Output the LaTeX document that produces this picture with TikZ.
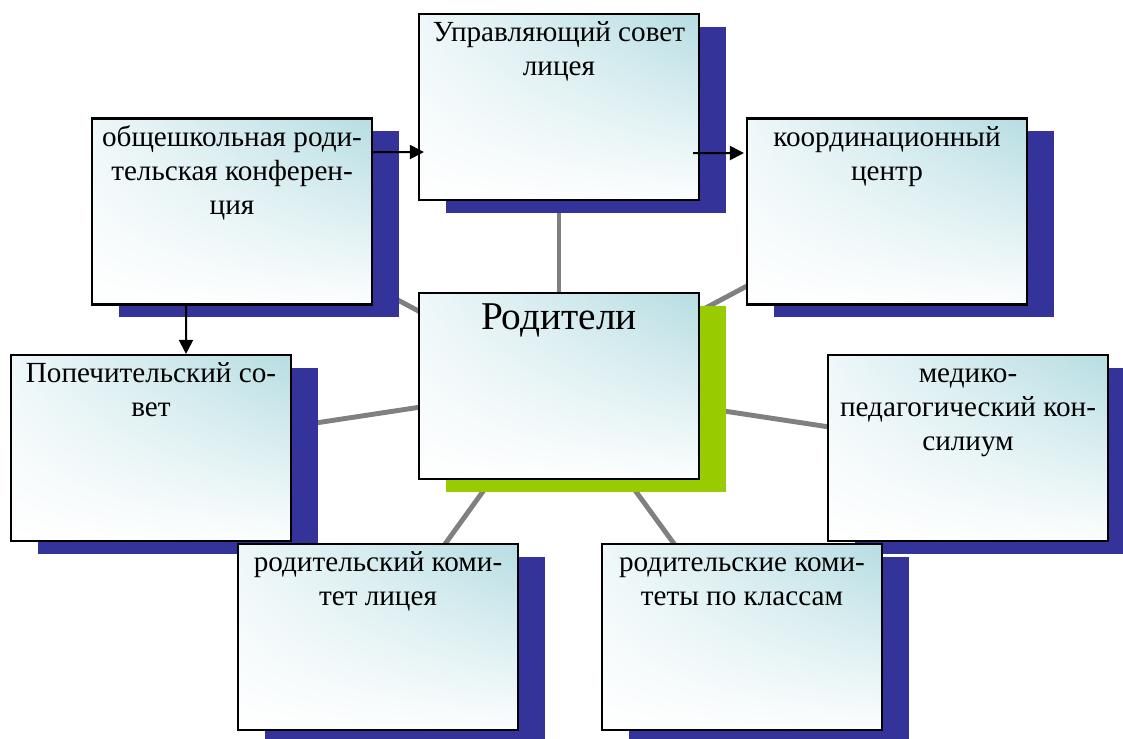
\documentclass[tikz,border=0pt]{standalone}
\usepackage{fontspec}
\setmainfont{Liberation Serif}
\usetikzlibrary{arrows.meta,shadows,shadings,backgrounds}

\definecolor{shblue}{RGB}{51,51,153}
\definecolor{shgreen}{RGB}{153,204,0}
\definecolor{boxcyan}{RGB}{182,221,226}
\definecolor{boxpale}{RGB}{238,247,249}
\definecolor{linkgray}{RGB}{128,128,128}

\begin{document}
\begin{tikzpicture}[font=\fontsize{8.3}{9.7}\selectfont]
%% boxes with a drop shadow, grey links from the centre box, black arrows
\tikzstyle{box}=[draw=black,line width=0.6pt,minimum width=2.8cm,minimum height=1.86cm,inner sep=0pt,
  upper left=boxpale,upper right=boxcyan,lower left=white,lower right=white!96!boxcyan]
\tikzstyle{blueshadow}=[drop shadow={shadow xshift=0.27cm,shadow yshift=-0.125cm,fill=shblue,opacity=1}]
\tikzstyle{greenshadow}=[drop shadow={shadow xshift=0.27cm,shadow yshift=-0.125cm,fill=shgreen,opacity=1}]
\tikzstyle{lbl}=[anchor=north,align=center,inner sep=0pt]
\tikzstyle{link}=[draw=linkgray,line width=1.4pt]
\tikzstyle{arc}=[-{Triangle[length=0.14cm,width=0.14cm]},line width=0.57pt]
\useasboundingbox (0,0) rectangle (11.23,-7.38);
%% TikZ-figure elements %%
\node[box,blueshadow] at (5.59,-1.07) (Upr) {};
%% label for box Upr
\node[lbl] at ([yshift=-0.04cm]Upr.north) (Upr-lbl) {\strut Управляющий совет\\лицея};
\node[box,blueshadow] at (2.32,-2.115) (Obsh) {};
%% label for box Obsh
\node[lbl] at ([yshift=-0.04cm]Obsh.north) (Obsh-lbl) {\strut общешкольная роди-\\тельская конферен-\\ция};
\node[box,blueshadow] at (8.87,-2.115) (Koord) {};
%% label for box Koord
\node[lbl] at ([yshift=-0.04cm]Koord.north) (Koord-lbl) {\strut координационный\\центр};
\node[box,greenshadow] at (5.59,-3.86) (Rod) {};
%% label for box Rod
\node[lbl,font=\fontsize{11.2}{14}\selectfont] at ([yshift=-0.025cm]Rod.north) (Rod-lbl) {\strut Родители};
\node[box,blueshadow] at (1.51,-4.48) (Pop) {};
%% label for box Pop
\node[lbl] at ([yshift=-0.04cm]Pop.north) (Pop-lbl) {\strut Попечительский со-\\вет};
\node[box,blueshadow] at (9.68,-4.48) (Med) {};
%% label for box Med
\node[lbl] at ([yshift=-0.04cm]Med.north) (Med-lbl) {\strut медико-\\педагогический кон-\\силиум};
\node[box,blueshadow] at (3.78,-6.37) (KomL) {};
%% label for box KomL
\node[lbl] at ([yshift=-0.04cm]KomL.north) (KomL-lbl) {\strut родительский коми-\\тет лицея};
\node[box,blueshadow] at (7.42,-6.37) (KomK) {};
%% label for box KomK
\node[lbl] at ([yshift=-0.04cm]KomK.north) (KomK-lbl) {\strut родительские коми-\\теты по классам};
%% grey links behind the boxes
\begin{pgfonlayer}{background}
\draw[link] (Rod.center) -- (Upr.center);
\draw[link] (Rod.center) -- (Obsh.center);
\draw[link] (Rod.center) -- (Koord.center);
\draw[link] (Rod.center) -- (Pop.center);
\draw[link] (Rod.center) -- (Med.center);
\draw[link] (Rod.center) -- (KomL.center);
\draw[link] (Rod.center) -- (KomK.center);
\end{pgfonlayer}
%% arrows
\draw[arc] ([yshift=0.595cm]Obsh.east) -- ([shift={(0.06,-0.45)}]Upr.west);
\draw[arc] ([shift={(-0.07,-0.46)}]Upr.east) -- ([shift={(-0.02,0.585)}]Koord.west);
\draw[arc] ([xshift=-0.46cm]Obsh.south) -- ([xshift=0.35cm]Pop.north);
\end{tikzpicture}
\end{document}
